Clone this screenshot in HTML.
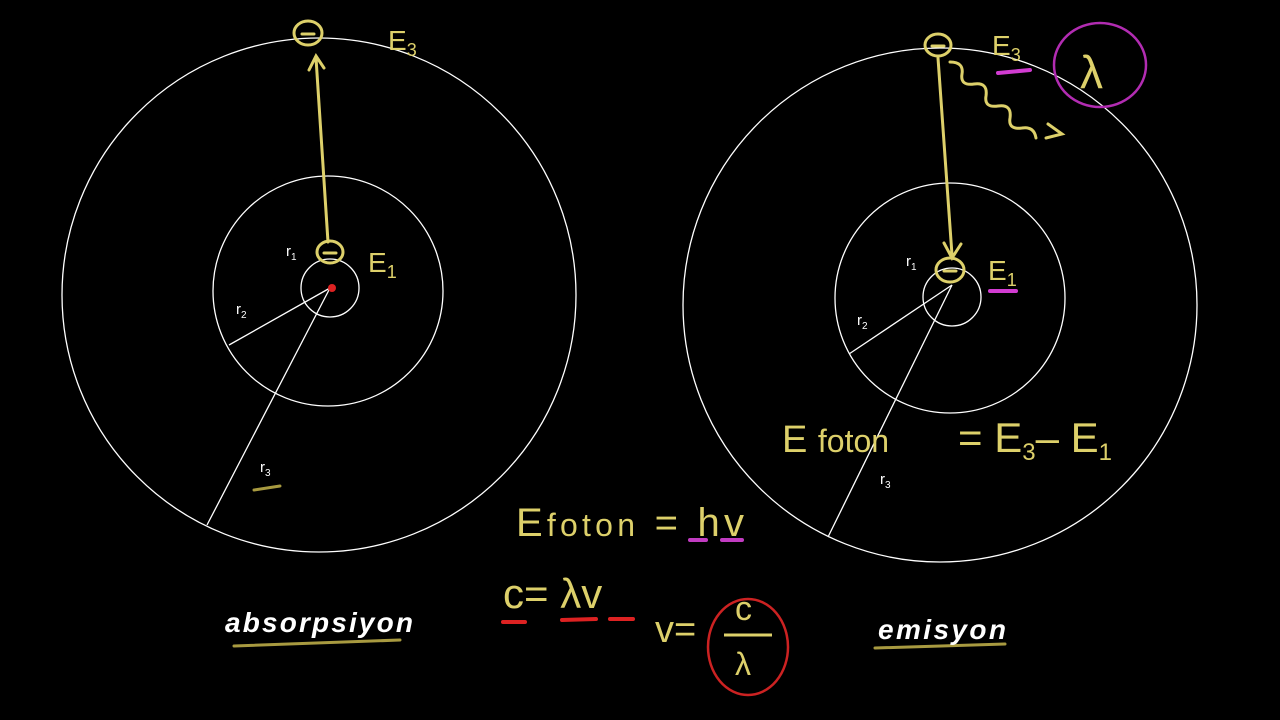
<!DOCTYPE html>
<html><head><meta charset="utf-8"><style>
html,body{margin:0;padding:0;background:#000;width:1280px;height:720px;overflow:hidden}
svg{display:block}
.y{fill:#ddd06a;font-family:"Liberation Sans",sans-serif}
.w{fill:#fff;font-family:"Liberation Sans",sans-serif}
</style></head><body>
<svg width="1280" height="720" viewBox="0 0 1280 720">
<g fill="none" stroke="#fff" stroke-width="1.3">
<circle cx="319" cy="295" r="257"/>
<circle cx="328" cy="291" r="115"/>
<circle cx="330" cy="288" r="29"/>
<line x1="330" y1="288" x2="207" y2="525"/>
<line x1="330" y1="288" x2="229" y2="345"/>
</g>
<circle cx="332" cy="288" r="4" fill="#d22"/>
<g fill="none" stroke="#fff" stroke-width="1.3">
<circle cx="940" cy="305" r="257"/>
<circle cx="950" cy="298" r="115"/>
<circle cx="952" cy="297" r="29"/>
<line x1="952" y1="285" x2="828" y2="537"/>
<line x1="952" y1="285" x2="849" y2="354"/>
</g>
<g fill="none" stroke="#ddd06a" stroke-width="3" stroke-linecap="round">
<ellipse cx="308" cy="33" rx="14" ry="12"/><line x1="302" y1="34" x2="314" y2="34"/>
<ellipse cx="330" cy="252" rx="13" ry="11"/><line x1="324" y1="253" x2="336" y2="253"/>
<path d="M328 242 L316 58 M309 70 L316 56 L324 68"/>
<ellipse cx="938" cy="45" rx="13" ry="11"/><line x1="932" y1="46" x2="944" y2="46"/>
<ellipse cx="950" cy="270" rx="14" ry="12"/><line x1="944" y1="271" x2="956" y2="271"/>
<path d="M938 58 L952 255 M944 243 L952 258 L961 244"/>
<path d="M950 62 q14 0 12 12 q-2 12 12 10 q14 -2 12 12 q-2 12 12 10 q14 -2 12 12 q-2 12 12 10 q12 -2 14 10 M1048 124 L1062 134 L1046 138"/>
</g>
<g class="y">
<text x="388" y="50" font-size="28">E<tspan font-size="18" dy="6">3</tspan></text>
<text x="368" y="272" font-size="28">E<tspan font-size="18" dy="6">1</tspan></text>
<text x="992" y="55" font-size="28">E<tspan font-size="18" dy="6">3</tspan></text>
<text x="988" y="280" font-size="28">E<tspan font-size="18" dy="6">1</tspan></text>
<text x="782" y="452" font-size="38">E <tspan font-size="32">foton</tspan></text>
<text x="958" y="452" font-size="42">= E<tspan font-size="24" dy="8">3</tspan><tspan dy="-8">– E</tspan><tspan font-size="24" dy="8">1</tspan></text>
<text x="516" y="536" font-size="40" textLength="228">E<tspan font-size="32">foton</tspan><tspan font-size="40"> = hv</tspan></text>
<text x="503" y="608" font-size="42">c= λv</text>
<text x="655" y="642" font-size="38">v=</text>
<text x="735" y="620" font-size="34">c</text>
<line x1="724" y1="635" x2="772" y2="635" stroke="#ddd06a" stroke-width="3"/>
<text x="735" y="675" font-size="32">λ</text>
<text x="1080" y="88" font-size="46">λ</text>
</g>
<g stroke-width="4" stroke-linecap="round" fill="none">
<line x1="998" y1="73" x2="1030" y2="70" stroke="#d23cd2"/>
<line x1="990" y1="291" x2="1016" y2="291" stroke="#d23cd2"/>
<line x1="690" y1="540" x2="706" y2="540" stroke="#c23cc2"/>
<line x1="722" y1="540" x2="742" y2="540" stroke="#c23cc2"/>
<line x1="503" y1="622" x2="525" y2="622" stroke="#d22"/>
<line x1="562" y1="620" x2="596" y2="619" stroke="#d22"/>
<line x1="610" y1="619" x2="633" y2="619" stroke="#d22"/>
<ellipse cx="1100" cy="65" rx="46" ry="42" stroke="#b22cb2" stroke-width="2.5"/>
<ellipse cx="748" cy="647" rx="40" ry="48" stroke="#c22" stroke-width="2.5"/>
<line x1="234" y1="646" x2="400" y2="640" stroke="#a89a40" stroke-width="3"/>
<line x1="875" y1="648" x2="1005" y2="644" stroke="#a89a40" stroke-width="3"/>
<line x1="254" y1="490" x2="280" y2="486" stroke="#a89a40" stroke-width="3"/>
</g>
<g class="w" font-size="15">
<text x="286" y="256">r<tspan font-size="10" dy="4">1</tspan></text>
<text x="236" y="314">r<tspan font-size="10" dy="4">2</tspan></text>
<text x="260" y="472">r<tspan font-size="10" dy="4">3</tspan></text>
<text x="906" y="266">r<tspan font-size="10" dy="4">1</tspan></text>
<text x="857" y="325">r<tspan font-size="10" dy="4">2</tspan></text>
<text x="880" y="484">r<tspan font-size="10" dy="4">3</tspan></text>
</g>
<text x="225" y="632" class="w" font-size="28" font-weight="bold" font-style="italic" textLength="188">absorpsiyon</text>
<text x="878" y="639" class="w" font-size="28" font-weight="bold" font-style="italic" textLength="128">emisyon</text>
</svg>
</body></html>
